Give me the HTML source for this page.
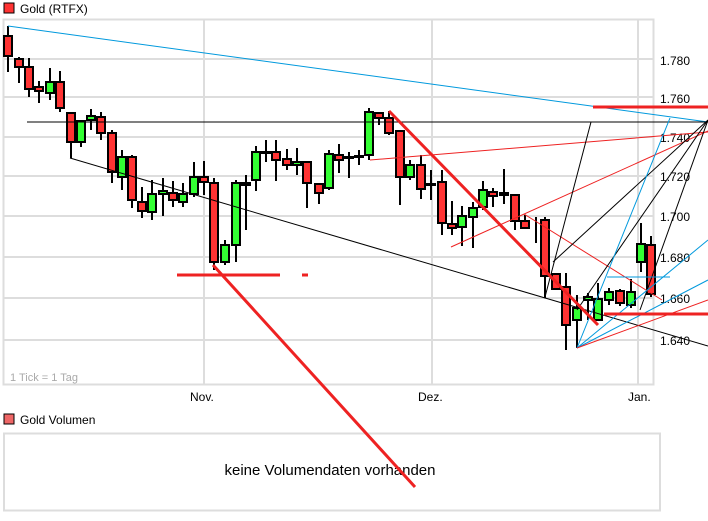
<!DOCTYPE html>
<html><head><meta charset="utf-8"><style>
body{margin:0;background:#fff;width:708px;height:521px;overflow:hidden}
svg{display:block;font-family:"Liberation Sans",sans-serif}
</style></head><body>
<svg width="708" height="521" xmlns="http://www.w3.org/2000/svg">
<rect x="4" y="3" width="10" height="10" fill="#f33" stroke="#000" stroke-width="1"/>
<text x="20" y="13" font-size="12" fill="#000">Gold (RTFX)</text>
<rect x="3.5" y="19.5" width="650" height="365" fill="#fff" stroke="#ddd" stroke-width="2"/>
<g stroke="#ddd" stroke-width="2">
<line x1="3" y1="59" x2="654" y2="59"/><line x1="3" y1="97" x2="654" y2="97"/>
<line x1="3" y1="137" x2="654" y2="137"/><line x1="3" y1="176" x2="654" y2="176"/>
<line x1="3" y1="216" x2="654" y2="216"/><line x1="3" y1="257" x2="654" y2="257"/>
<line x1="3" y1="298" x2="654" y2="298"/><line x1="3" y1="340" x2="654" y2="340"/>
<line x1="204" y1="20" x2="204" y2="385"/><line x1="432" y1="20" x2="432" y2="385"/>
<line x1="638" y1="20" x2="638" y2="385"/>
</g>
<g font-size="12" fill="#000">
<text x="660" y="65">1.780</text><text x="660" y="103">1.760</text><text x="660" y="142">1.740</text>
<text x="660" y="181">1.720</text><text x="660" y="221">1.700</text><text x="660" y="262">1.680</text>
<text x="660" y="303">1.660</text><text x="660" y="345">1.640</text>
<text x="190" y="401">Nov.</text><text x="418" y="401">Dez.</text><text x="628" y="401">Jan.</text>
</g>
<text x="10" y="381" font-size="11" fill="#aaa">1 Tick = 1 Tag</text>
<rect x="4" y="414" width="10" height="10" fill="#e66" stroke="#000" stroke-width="1"/>
<text x="20" y="424" font-size="12" fill="#000">Gold Volumen</text>
<rect x="4" y="433.5" width="656" height="77" fill="none" stroke="#ddd" stroke-width="2"/>
<text x="330" y="475" font-size="15" text-anchor="middle" fill="#000">keine Volumendaten vorhanden</text>
<g stroke="#000" stroke-width="2">
<path d="M8 26V72M19 57V83M29 58V97M39 81V103M50 68V100M60 71V112M71 112V158M81 120V147M91 109V130M101 112V140M112 130V183M122 150V190M132 155V208M142 187V218M152 180V220M163 178V216M173 181V207M183 183V207M194 162V197M204 161V195M214 178V270M225 240V265M236 180V262M246 175V230M256 146V191M266 140V162M276 140V181M287 149V170M297 148V175M307 162V208M319 183V204M329 150V190M339 144V173M349 152V178M359 150V165M369 108V160M379 112V125M389 111V135M400 130V205M410 160V180M421 155V199M431 170V200M442 170V235M452 201V235M462 206V246M473 202V248M483 181V210M493 188V207M504 169V204M515 194V230M525 215V229M536 217V243M545 217V298M556 273V290M566 273V350M577 295V348M588 293V320M598 283V320M609 288V305M620 289V306M631 279V308M641 223V272M651 236V297"/>
</g>
<g stroke="#000" stroke-width="2">
<rect x="4" y="36" width="8" height="20" fill="#f33"/><rect x="15" y="59" width="8" height="8" fill="#f33"/>
<rect x="25" y="67" width="8" height="22" fill="#f33"/><rect x="35" y="87" width="8" height="4" fill="#f33"/>
<rect x="46" y="82" width="8" height="11" fill="#3f3"/><rect x="56" y="82" width="8" height="26" fill="#f33"/>
<rect x="67" y="113" width="8" height="29" fill="#f33"/><rect x="77" y="121" width="8" height="21" fill="#3f3"/>
<rect x="87" y="116" width="8" height="4" fill="#3f3"/><rect x="97" y="117" width="8" height="16" fill="#f33"/>
<rect x="108" y="133" width="8" height="39" fill="#f33"/><rect x="118" y="157" width="8" height="20" fill="#3f3"/>
<rect x="128" y="157" width="8" height="43" fill="#f33"/><rect x="138" y="202" width="8" height="9" fill="#f33"/>
<rect x="148" y="194" width="8" height="18" fill="#3f3"/><rect x="159" y="191" width="8" height="3" fill="#3f3"/>
<rect x="169" y="193" width="8" height="7" fill="#f33"/><rect x="179" y="194" width="8" height="8" fill="#3f3"/>
<rect x="190" y="177" width="8" height="17" fill="#3f3"/><rect x="200" y="177" width="8" height="5" fill="#f33"/>
<rect x="210" y="183" width="8" height="79" fill="#f33"/><rect x="221" y="245" width="8" height="17" fill="#3f3"/>
<rect x="232" y="183" width="8" height="62" fill="#3f3"/><rect x="242" y="183" width="8" height="2" fill="#3f3"/>
<rect x="252" y="152" width="8" height="28" fill="#3f3"/><rect x="262" y="152" width="8" height="1" fill="#000"/>
<rect x="272" y="152" width="8" height="8" fill="#f33"/><rect x="283" y="159" width="8" height="6" fill="#f33"/>
<rect x="293" y="162" width="8" height="3" fill="#3f3"/><rect x="303" y="162" width="8" height="21" fill="#f33"/>
<rect x="315" y="184" width="8" height="9" fill="#f33"/><rect x="325" y="154" width="8" height="34" fill="#3f3"/>
<rect x="335" y="155" width="8" height="5" fill="#f33"/><rect x="345" y="157" width="8" height="1" fill="#000"/>
<rect x="355" y="156" width="8" height="1" fill="#000"/>
<rect x="365" y="112" width="8" height="43" fill="#3f3"/><rect x="375" y="113" width="8" height="5" fill="#f33"/>
<rect x="385" y="118" width="8" height="15" fill="#f33"/><rect x="396" y="131" width="8" height="46" fill="#f33"/>
<rect x="406" y="165" width="8" height="12" fill="#3f3"/><rect x="417" y="165" width="8" height="24" fill="#f33"/>
<rect x="427" y="184" width="8" height="1" fill="#000"/><rect x="438" y="182" width="8" height="41" fill="#f33"/>
<rect x="448" y="224" width="8" height="4" fill="#f33"/><rect x="458" y="216" width="8" height="11" fill="#3f3"/>
<rect x="469" y="208" width="8" height="9" fill="#3f3"/><rect x="479" y="190" width="8" height="17" fill="#3f3"/>
<rect x="489" y="192" width="8" height="4" fill="#f33"/><rect x="500" y="193" width="8" height="2" fill="#f33"/>
<rect x="511" y="195" width="8" height="26" fill="#f33"/><rect x="521" y="221" width="8" height="7" fill="#f33"/>
<rect x="541" y="220" width="8" height="56" fill="#f33"/><rect x="552" y="274" width="8" height="15" fill="#f33"/>
<rect x="562" y="287" width="8" height="38" fill="#f33"/><rect x="573" y="308" width="8" height="12" fill="#3f3"/>
<rect x="584" y="297" width="8" height="3" fill="#3f3"/><rect x="594" y="299" width="8" height="21" fill="#3f3"/>
<rect x="605" y="292" width="8" height="8" fill="#3f3"/><rect x="616" y="291" width="8" height="12" fill="#f33"/>
<rect x="627" y="292" width="8" height="13" fill="#3f3"/><rect x="637" y="244" width="8" height="18" fill="#3f3"/>
<rect x="647" y="245" width="8" height="49" fill="#f33"/>
</g>
<g fill="none" stroke-width="1">
<line x1="8" y1="26" x2="708" y2="122" stroke="#09d"/>
<line x1="27" y1="122" x2="708" y2="122" stroke="#000"/>
<line x1="70" y1="158" x2="708" y2="346" stroke="#000"/>
<line x1="370" y1="160" x2="708" y2="132" stroke="#e22"/>
<line x1="451" y1="247" x2="708" y2="131" stroke="#e22"/>
<line x1="524" y1="214" x2="662" y2="300" stroke="#e22"/>
<line x1="545" y1="297" x2="591" y2="122" stroke="#000"/>
<line x1="553" y1="262" x2="708" y2="120" stroke="#000"/>
<line x1="577" y1="310" x2="708" y2="120" stroke="#000"/>
<line x1="640" y1="310" x2="708" y2="120" stroke="#000"/>
<line x1="577" y1="348" x2="670" y2="118" stroke="#09d"/>
<line x1="577" y1="348" x2="708" y2="240" stroke="#09d"/>
<line x1="577" y1="348" x2="708" y2="280" stroke="#09d"/>
<line x1="607" y1="277" x2="670" y2="277" stroke="#09d"/>
<line x1="577" y1="348" x2="708" y2="300" stroke="#e22"/>
</g>
<g stroke="#e22" stroke-width="3" fill="none">
<line x1="389" y1="111" x2="598" y2="325"/>
<line x1="213" y1="265" x2="415" y2="487"/>
<line x1="593" y1="107" x2="708" y2="107"/>
<line x1="604" y1="314" x2="708" y2="314"/>
<line x1="177" y1="275" x2="280" y2="275"/>
<line x1="302" y1="275" x2="308" y2="275"/>
</g>
</svg>
</body></html>
